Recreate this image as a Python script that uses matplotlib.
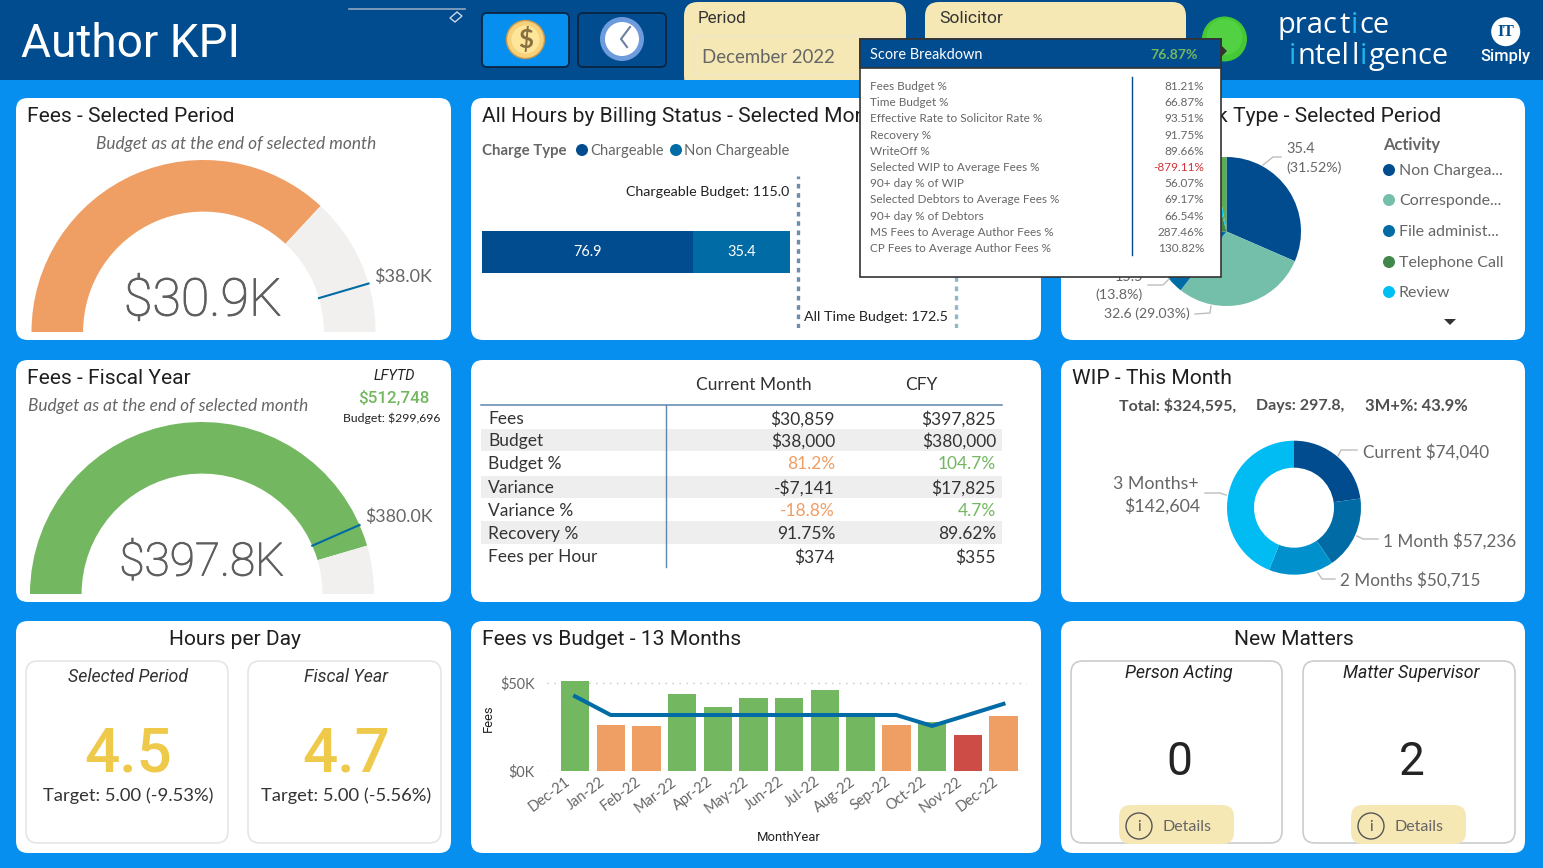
import numpy as np
import matplotlib
matplotlib.use("Agg")
import matplotlib.pyplot as plt
import matplotlib.patheffects as pe
from matplotlib.patches import Circle, FancyBboxPatch, Polygon, Rectangle
from matplotlib.transforms import ScaledTranslation

W, H = 1543, 868

# colours
NAVY = "#004C8F"
MIDBLUE = "#006BA5"
SKY = "#078FEF"
CREAM = "#F6E8B4"
GREEN = "#73B761"
ORANGE = "#EF9E64"
RED = "#CD4C46"
GAUGE_BG = "#F1F0EF"
GREY = "#666666"
DARK = "#252423"
LEADER = "#BDBDBD"

TITLE_FONT = "Roboto"
BODY_FONT = "Lato"

# gauges
gauge_values = [30.859, 397.825]
gauge_targets = [38.0, 380.0]
gauge_maxes = [41.8, 437.5]
gauge_colors = [ORANGE, GREEN]

# hours by billing status
hours_labels = ["Chargeable", "Non Chargeable"]
hours_values = [76.9, 35.4]
chargeable_budget = 115.0
all_time_budget = 172.5

# work type pie, hidden part behind the tooltip is estimated
activity_names = ["Non Chargeable", "Correspondence", "File administration",
                  "Telephone Call", "Review", "Other"]
activity_hours = [35.4, 32.6, 15.5, 24.1, 1.6, 3.1]
activity_colors = [NAVY, "#74BFA9", MIDBLUE, "#41864A", "#00BFF3", "#5AAE4F"]
legend_names = ["Non Chargea...", "Corresponde...", "File administ...", "Telephone Call", "Review"]

# table
table_rows = ["Fees", "Budget", "Budget %", "Variance", "Variance %", "Recovery %", "Fees per Hour"]
table_month = ["$30,859", "$38,000", "81.2%", "-$7,141", "-18.8%", "91.75%", "$374"]
table_cfy = ["$397,825", "$380,000", "104.7%", "$17,825", "4.7%", "89.62%", "$355"]

# wip donut
wip_names = ["Current", "1 Month", "2 Months", "3 Months+"]
wip_values = [74040, 57236, 50715, 142604]
wip_colors = [NAVY, MIDBLUE, "#0091CC", "#00BCF2"]

# 13 months
months = ["Dec-21", "Jan-22", "Feb-22", "Mar-22", "Apr-22", "May-22", "Jun-22",
          "Jul-22", "Aug-22", "Sep-22", "Oct-22", "Nov-22", "Dec-22"]
fees_k = [51.1, 25.8, 25.5, 43.6, 36.0, 41.3, 41.3, 45.8, 32.0, 25.8, 27.7, 20.4, 30.9]
budget_k = [42.3, 31.7, 31.7, 31.7, 31.7, 31.7, 31.7, 31.7, 31.7, 31.7, 25.5, 31.7, 38.0]
fee_colors = [GREEN, ORANGE, ORANGE, GREEN, GREEN, GREEN, GREEN, GREEN, GREEN, ORANGE, GREEN, RED, ORANGE]

# tooltip
score_names = ["Fees Budget %", "Time Budget %", "Effective Rate to Solicitor Rate %",
               "Recovery %", "WriteOff %", "Selected WIP to Average Fees %",
               "90+ day % of WIP", "Selected Debtors to Average Fees %",
               "90+ day % of Debtors", "MS Fees to Average Author Fees %",
               "CP Fees to Average Author Fees %"]
score_values = ["81.21%", "66.87%", "93.51%", "91.75%", "89.66%", "-879.11%",
                "56.07%", "69.17%", "66.54%", "287.46%", "130.82%"]
score_rows_y = [86, 102, 118, 135, 151, 167, 183, 199, 216, 232, 248]

fig = plt.figure(figsize=(W / 100, H / 100), dpi=100, facecolor=SKY)


def px_axes(x0, y0, x1, y1, zorder=1):
    ax = fig.add_axes([x0 / W, 1 - y1 / H, (x1 - x0) / W, (y1 - y0) / H], zorder=zorder)
    ax.patch.set_alpha(0)
    return ax


bg = px_axes(0, 0, W, H, zorder=0)
fg = px_axes(0, 0, W, H, zorder=5)
for a in (bg, fg):
    a.set_xlim(0, W)
    a.set_ylim(H, 0)
    a.axis("off")


def px(size):
    # font size given in pixels
    return size * 0.72


def text(x, y, s, size, color=DARK, ha="left", va="center", family=BODY_FONT, z=3, **kw):
    y += 2.5 if family == TITLE_FONT else 0.8
    return fg.text(x, y, s, fontsize=px(size), color=color, ha=ha, va=va, family=family, zorder=z, **kw)


def title(x, y, s, ha="left", size=21):
    return text(x, y, s, size, color="#1F1F1F", ha=ha, family=TITLE_FONT)


def big_value(x, y, s, size):
    # the light face comes out hairline thin, so thicken it a touch
    t = text(x, y, s, size, color="#605E5C", ha="center", family=TITLE_FONT, weight="light")
    t.set_path_effects([pe.withStroke(linewidth=0.7, foreground="#605E5C")])
    return t


def rbox(ax, x0, y0, x1, y1, r, fc, ec="none", lw=0, z=1):
    p = FancyBboxPatch((x0, y0), x1 - x0, y1 - y0, boxstyle="round,pad=0,rounding_size=%g" % r,
                       fc=fc, ec=ec, lw=lw, zorder=z)
    ax.add_patch(p)
    return p


def leader(xs, ys):
    fg.plot(xs, ys, color=LEADER, lw=1, zorder=2)


# header
bg.add_patch(Rectangle((0, 0), W, 80, fc=NAVY, ec="none", zorder=0.5))
text(21, 41.5, "Author KPI", 46, color="white", family=TITLE_FONT)
bg.plot([349, 465], [9, 9], color="#8FA7C0", lw=1.2, zorder=2)
bg.add_patch(Polygon([[450, 18], [457, 12], [462, 16], [455, 22]], fc="none", ec="#C9D6E3", lw=1, zorder=2))

rbox(bg, 482, 13, 569, 67, 5, SKY, ec="#0A2540", lw=1.3, z=2)
rbox(bg, 578, 13, 666, 67, 5, NAVY, ec="#0A2540", lw=1.3, z=2)
bg.add_patch(Circle((525.5, 39.5), 19, fc="#F7D27B", ec="#C79A4F", lw=1, zorder=3))
bg.add_patch(Circle((525.5, 39.5), 14, fc="#FDE69A", ec="none", zorder=3))
bg.text(525.5, 39.5, "$", fontsize=px(26), color="#8A7040", ha="center", va="center", weight="bold",
        family=BODY_FONT, zorder=4)
bg.add_patch(Circle((622, 39), 22, fc="#6E9BDC", ec="none", zorder=3))
bg.add_patch(Circle((622, 39), 17, fc="white", ec="none", zorder=3))
bg.plot([630, 621, 627], [27, 39, 47], color="#6B7F9E", lw=1.5, zorder=4)

rbox(bg, 684, 2, 906, 90, 14, CREAM, z=2)
rbox(bg, 925, 2, 1186, 90, 14, CREAM, z=2)
bg.add_patch(Rectangle((0, 80), W, 10, fc=SKY, ec="none", zorder=2.2))
bg.add_patch(Rectangle((694, 36), 200, 38, fc="none", ec="#EFE6C8", lw=1, zorder=3))
bg.plot([935, 1175], [36, 36], color="#EFE6C8", lw=1, zorder=3)
text(698, 16, "Period", 17, family=TITLE_FONT, color="#333333")
text(939, 16, "Solicitor", 17.5, family=TITLE_FONT, color="#333333")
text(702, 57, "December 2022", 18.7, color=GREY)

bg.add_patch(Circle((1224.5, 39), 22.5, fc="#45C836", ec="none", zorder=3))
bg.add_patch(Circle((1224.5, 37), 18, fc="#52D243", ec="none", zorder=3))
fg.add_patch(Polygon([[1220, 44], [1227, 51], [1220, 58]], fc="#333333", ec="none", zorder=7))


def logo_line(x, y, parts, size):
    rend = fig.canvas.get_renderer()
    for s, col in parts:
        t = text(x, y, s, size, color=col, family="Open Sans")
        x += t.get_window_extent(rend).width + 1.4


logo_line(1278, 25, [("prac", "white"), ("t", "white"), ("i", "#20B5EE"), ("ce", "white")], 29)
logo_line(1289, 56, [("i", "#20B5EE"), ("ntel", "white"), ("l", "white"), ("i", "#20B5EE"), ("gence", "white")], 29)

bg.add_patch(Circle((1505.7, 31.7), 14.5, fc="white", ec="none", zorder=3))
text(1505.7, 31, "IT", 16, color=NAVY, ha="center", family="Liberation Serif", weight="bold")
text(1505.5, 54, "Simply", 16.5, color="white", ha="center", family="Roboto", weight="medium")

# panels
panel_x = [(16, 451), (471, 1041), (1061, 1525)]
panel_y = [(98, 340), (360, 602), (621, 853)]
for px0, px1 in panel_x:
    for py0, py1 in panel_y:
        rbox(bg, px0, py0, px1, py1, 12, "white", z=1)


# gauges
def gauge(cx, cy, i):
    R = 172
    ax = px_axes(cx - R, cy - R, cx + R, cy + R)
    val, tgt, top = gauge_values[i], gauge_targets[i], gauge_maxes[i]
    wedges, _ = ax.pie([val, top - val, top], colors=[gauge_colors[i], GAUGE_BG, "white"], startangle=180,
                       counterclock=False, radius=1, wedgeprops={"width": 0.3, "linewidth": 0})
    wedges[2].set_visible(False)
    ax.set_xlim(-1, 1)
    ax.set_ylim(-1, 1)
    ang = np.pi * (1 - tgt / top)
    ax.plot([0.7 * np.cos(ang), np.cos(ang)], [0.7 * np.sin(ang), np.sin(ang)], color=MIDBLUE, lw=1.5,
            clip_on=False)


gauge(203.5, 332, 0)
gauge(202, 594, 1)

title(27, 114, "Fees - Selected Period")
text(236, 143, "Budget as at the end of selected month", 17.2, color=GREY, ha="center", style="italic")
big_value(203, 299, "$30.9K", 52)
text(374, 276, "$38.0K", 18, color=GREY)

title(27, 376, "Fees - Fiscal Year")
text(28, 405, "Budget as at the end of selected month", 17.2, color=GREY, style="italic")
text(394, 373, "LFYTD", 14.5, ha="center", family=TITLE_FONT, style="italic", color="#222222")
text(394, 395, "$512,748", 17, color=GREEN, ha="center", family=TITLE_FONT, weight="medium")
text(392, 417, "Budget: $299,696", 12.3, ha="center", color="#222222")
big_value(202, 560, "$397.8K", 46)
text(365, 516, "$380.0K", 17.8, color=GREY)

# hours bar
ax = px_axes(481.5, 176, 1041, 328)
ax.set_xlim(0, (1041 - 481.5) / 2.75)
ax.set_ylim(0, 1)
ax.axis("off")
left = 0
for v, c in zip(hours_values, [NAVY, MIDBLUE]):
    ax.barh(0.5, v, left=left, height=0.274, color=c, linewidth=0)
    ax.text(left + v / 2, 0.5, "%.1f" % v, color="white", ha="center", va="center", fontsize=px(14.5), family=BODY_FONT)
    left += v
ax.axvline(chargeable_budget, color="#6D8DAD", lw=2.4, ls=(0, (1.4, 1.4)))
ax.axvline(all_time_budget, color="#8FB8C8", lw=2.4, ls=(0, (1.4, 1.4)))

# only the parts of these two titles that the tooltip leaves showing
title(482, 114, "All Hours by Billing Status - Selected Mon")
text(482, 150, "Charge Type", 15, color=GREY, weight="bold")
for dx, tx, name, c in zip([582, 676], [590, 684], hours_labels, [NAVY, MIDBLUE]):
    fg.add_patch(Circle((dx, 150), 6, fc=c, ec="none", zorder=3))
    text(tx, 150, name, 14.8, color=GREY)
text(789, 191, "Chargeable Budget: %.1f" % chargeable_budget, 14.3, ha="right", color="#222222")
text(804, 316, "All Time Budget: %.1f" % all_time_budget, 14.2, color="#222222")

# work type pie
ax = px_axes(1226.5 - 74.5, 231.5 - 74.5, 1226.5 + 74.5, 231.5 + 74.5)
ax.pie(activity_hours, colors=activity_colors, startangle=90, counterclock=False, radius=1,
       wedgeprops={"linewidth": 0})
ax.set_xlim(-1, 1)
ax.set_ylim(-1, 1)

title(1441, 114, "k Type - Selected Period", ha="right")
text(1286, 148, "35.4", 14.5, color=GREY)
text(1286, 167, "(31.52%)", 14.3, color=GREY)
leader([1281, 1273, 1263], [157, 157, 165])
text(1143, 276, "15.5", 14.5, color=GREY, ha="right")
text(1143, 294, "(13.8%)", 14.3, color=GREY, ha="right")
leader([1148, 1163, 1169], [285, 285, 279])
text(1190, 313, "32.6 (29.03%)", 14, color=GREY, ha="right")
leader([1195, 1210, 1211], [314, 313, 306])
text(1383, 144, "Activity", 16.5, color=GREY, weight="bold")
for y, name, idx in zip([170, 200, 231, 262, 292], legend_names, range(5)):
    fg.add_patch(Circle((1389, y), 6, fc=activity_colors[idx], ec="none", zorder=3))
    text(1399, y, name, 16, color=GREY)
fg.add_patch(Polygon([[1444, 319], [1456, 319], [1450, 325]], fc="#333333", ec="none", zorder=3))

# table
row_y = [418.2, 440.5, 463.5, 487, 510.5, 533.5, 556.5]
pct_colors = {2: (ORANGE, GREEN), 4: (ORANGE, GREEN)}
text(754, 384, "Current Month", 17.4, ha="center", color="#333333")
text(921, 384, "CFY", 17.4, ha="center", color="#333333")
for (y0, y1) in [(429, 451), (476, 498), (521, 544)]:
    bg.add_patch(Rectangle((481, y0), 521, y1 - y0, fc="#EEEEEE", ec="none", zorder=2))
bg.plot([481, 1002], [405, 405], color="#5C86AE", lw=1.1, zorder=3)
bg.plot([665.5, 665.5], [405, 567], color="#5C86AE", lw=1, zorder=3)
for i, y in enumerate(row_y):
    c1, c2 = pct_colors.get(i, ("#333333", "#333333"))
    text(488, y, table_rows[i], 17.4, color="#333333")
    text(835, y, table_month[i], 17.4, color=c1, ha="right")
    text(996, y, table_cfy[i], 17.4, color=c2, ha="right")

# wip donut
ax = px_axes(1294 - 67, 507.7 - 67, 1294 + 67, 507.7 + 67)
ax.pie(wip_values, colors=wip_colors, startangle=90, counterclock=False, radius=1,
       wedgeprops={"width": 1 - 40 / 67, "linewidth": 0})
ax.set_xlim(-1, 1)
ax.set_ylim(-1, 1)

title(1072, 376, "WIP - This Month")
text(1119, 405, "Total: $324,595,", 16, color="#505050", weight="bold")
text(1256, 405, "Days: 297.8,", 16, color="#505050", weight="bold")
text(1365, 405, "3M+%: 43.9%", 16.5, color="#505050", weight="bold")
text(1363, 451, "%s $%s" % (wip_names[0], format(wip_values[0], ",")), 17.1, color=GREY)
text(1383, 540, "%s $%s" % (wip_names[1], format(wip_values[1], ",")), 17.1, color=GREY)
text(1340, 579, "%s $%s" % (wip_names[2], format(wip_values[2], ",")), 17.1, color=GREY)
text(1199, 483, wip_names[3], 17.7, color=GREY, ha="right")
text(1200, 505, "$" + format(wip_values[3], ","), 17.7, color=GREY, ha="right")
leader([1357, 1341, 1338], [450, 450, 456])
leader([1378, 1363, 1357], [539, 539, 536])
leader([1335, 1322, 1318], [579, 579, 573])
leader([1205, 1220, 1226], [493, 493, 495])

# hours per day
title(235, 637, "Hours per Day", ha="center")
for x0, x1 in [(26, 228), (248, 441)]:
    rbox(bg, x0, 661, x1, 843, 12, "white", ec="#E6E6E6", lw=1.2, z=2)
for cx, name, val, tgt in [(129, "Selected Period", "4.5", "Target: 5.00 (-9.53%)"),
                           (347, "Fiscal Year", "4.7", "Target: 5.00 (-5.56%)")]:
    text(cx - 1, 674, name, 17.8, ha="center", family=TITLE_FONT, style="italic", color="#333333")
    text(cx - 1, 752, val, 62, color="#EEC94A", ha="center", family=TITLE_FONT, weight="medium")
    text(cx - 1, 795, tgt, 18.4, ha="center", color="#333333")

# fees vs budget
title(482, 637, "Fees vs Budget - 13 Months")
ax = px_axes(547, 665, 1027.4, 771)
x = np.arange(len(months))
ax.bar(x, fees_k, width=0.795, color=fee_colors, linewidth=0, zorder=2)
ax.plot(x, budget_k, color=MIDBLUE, lw=2.9, zorder=3)
ax.set_xlim(-0.784, 12.67)
ax.set_ylim(0, 60)
ax.set_yticks([0, 50])
ax.set_yticklabels(["$0K", "$50K"], family=BODY_FONT, fontsize=px(14.5), color=GREY)
ax.set_xticks(x)
ax.set_xticklabels(months, rotation=37, ha="right", rotation_mode="anchor", family=BODY_FONT,
                   fontsize=px(14.5), color=GREY)
ax.tick_params(length=0, axis="y", pad=8.6)
ax.tick_params(length=0, axis="x", pad=4)
shift = ScaledTranslation(-11 / 100, 2 / 100, fig.dpi_scale_trans)
for lab in ax.get_xticklabels():
    lab.set_transform(lab.get_transform() + shift)
ax.grid(axis="y", color="#C8C6C4", ls=(0, (1, 4)), lw=1, zorder=0)
for s in ax.spines.values():
    s.set_visible(False)
text(488, 716, "Fees", 13, rotation=90, ha="center", family=TITLE_FONT, color="#222222")
text(789, 835, "MonthYear", 13, ha="center", family=TITLE_FONT, color="#222222")

# new matters
title(1294, 637, "New Matters", ha="center")
for x0, x1, cx, name, val, bx in [(1071, 1282, 1179, "Person Acting", "0", 1119),
                                  (1303, 1515, 1411.5, "Matter Supervisor", "2", 1351)]:
    rbox(bg, x0, 661, x1, 843, 12, "white", ec="#CCCCCC", lw=1.2, z=2)
    text(cx, 670, name, 17.8, ha="center", family=TITLE_FONT, style="italic", color="#222222")
    text(cx, 759.5, val, 46, ha="center", family=TITLE_FONT, color="#252423")
    rbox(bg, bx, 805, bx + 115, 844, 12, CREAM, z=3)
    bg.add_patch(Circle((bx + 20, 826), 13, fc="none", ec="#555555", lw=1, zorder=4))
    text(bx + 20, 826, "i", 15, ha="center", color="#555555")
    text(bx + 44, 826, "Details", 16, color=GREY)

# tooltip over everything
fg.add_patch(Rectangle((860, 39), 360.5, 238, fc="white", ec="#333333", lw=1.2, zorder=6))
fg.add_patch(Rectangle((860, 39), 360.5, 29, fc=NAVY, ec="#333333", lw=1.2, zorder=6))
text(870, 54, "Score Breakdown", 14.5, color="white", z=7)
text(1198, 54, "76.87%", 14, color=GREEN, ha="right", z=7, weight="bold")
fg.plot([1132, 1132], [77, 255], color=NAVY, lw=1, zorder=7)
for name, val, y in zip(score_names, score_values, score_rows_y):
    text(870, y, name, 11.7, color=GREY, z=7)
    text(1204, y, val, 11.7, color="#D13438" if val.startswith("-") else GREY, ha="right", z=7)

fig.savefig("out.png", dpi=100, facecolor=SKY)
